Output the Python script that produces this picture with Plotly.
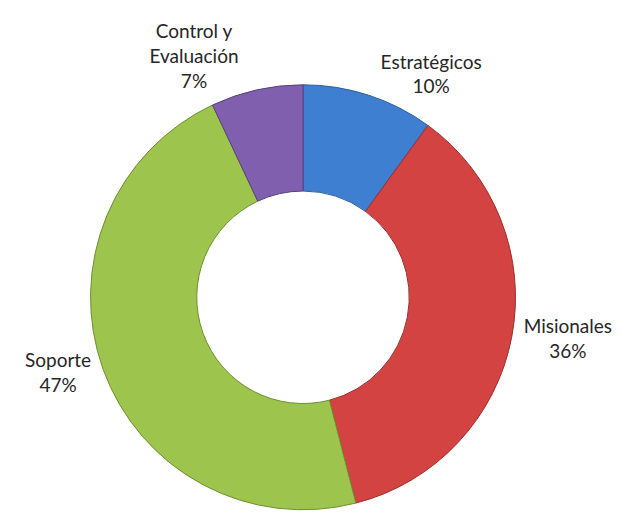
import plotly.graph_objects as go

categories = ["Estratégicos", "Misionales", "Soporte", "Control y Evaluación"]
display_labels = ["Estratégicos", "Misionales", "Soporte", "Control y<br>Evaluación"]
values = [10, 36, 47, 7]
colors = ["#3f7fd1", "#d24342", "#9dc54d", "#8060ae"]
edge_colors = ["#2c5f9e", "#9a2f2d", "#6f8f30", "#5a3f80"]

fig = go.Figure(go.Pie(
    labels=categories,
    values=values,
    text=display_labels,
    texttemplate="%{text}<br>%{percent:.0%}",
    textposition="outside",
    hole=0.5,
    sort=False,
    direction="clockwise",
    rotation=0,
    marker=dict(colors=colors, line=dict(color=edge_colors, width=1)),
    textfont=dict(family="Lato, 'Open Sans', sans-serif", size=19, color="#262626"),
    showlegend=False,
    domain=dict(x=[0.132, 0.812], y=[0.02, 0.85]),
))

fig.update_layout(
    width=625, height=512,
    margin=dict(l=0, r=0, t=0, b=0),
    paper_bgcolor="white",
    plot_bgcolor="white",
)

fig.write_html("out.html")
